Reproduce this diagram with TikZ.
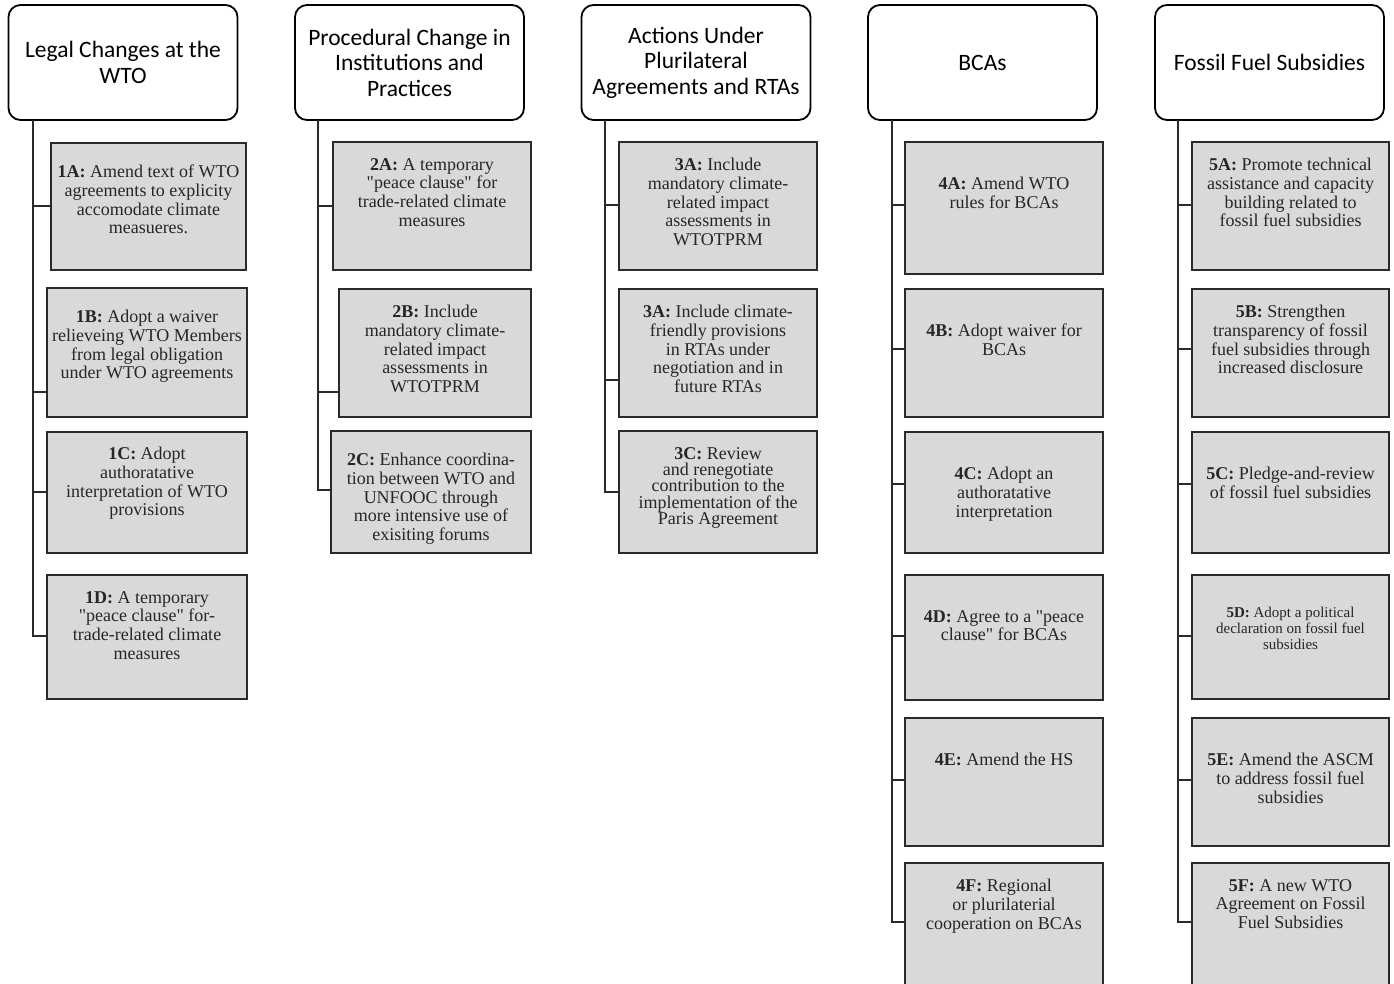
\documentclass[tikz,border=0pt]{standalone}
\usepackage{fontspec}
\newfontfamily\bodyfont{Liberation Serif}
\newfontfamily\headfont{Carlito}
\definecolor{boxfill}{HTML}{D9D9D9}
\definecolor{boxline}{HTML}{2A2A2A}
\definecolor{txt}{HTML}{262626}
\tikzset{
  hdr/.style={draw=black, line width=1.8pt, rounded corners=12pt, fill=white, align=center,
    minimum width=229pt, minimum height=115pt, inner sep=0pt, outer sep=0pt,
    font=\headfont\fontsize{23.5}{25.5}\selectfont, text=black},
  optbox/.style={draw=boxline, line width=2.6pt, fill=boxfill, inner sep=0pt, outer sep=0pt},
  opttext/.style={align=center, anchor=north, inner sep=0pt, text=txt,
    font=\bodyfont\fontsize{18}{18.7}\selectfont},
  trunk/.style={draw=boxline, line width=2.5pt},
  conn/.style={draw=boxline, line width=2.2pt},
}
\newcommand{\obox}[8][]{%
  \node[optbox, minimum width={(#4-#2)*1pt}, minimum height={(#5-#3)*1pt}] (#2x#3) at ({(#2+#4)/2},{(#3+#5)/2}) {};
  \node[opttext,#1] (#2x#3t) at ({(#2+#4)/2},{#6-6}) {#7};
  \coordinate (#8) at (#2x#3.west);
}
\newcommand{\myconn}[4]{%
  % #1 coordinate name, #2 trunk x, #3 y, #4 box node
  \coordinate (#1) at (#2,#3);
  \draw[conn] (#1) -- (#1 -| #4.west);
}
\begin{document}
\begin{tikzpicture}[x=1pt,y=-1pt]
\useasboundingbox (0,0) rectangle (1394,983);
\clip (0,0) rectangle (1394,983);
\fill[white] (0,0) rectangle (1394,983);

% headers
\node[hdr] (h1) at (123,62.5) {Legal Changes at the\\WTO};
\node[hdr] (h2) at (409.5,62.5) {Procedural Change in\\Institutions and\\Practices};
\node[hdr] (h3) at (696,62.5) {Actions Under\\Plurilateral\\Agreements and RTAs};
\node[hdr] (h4) at (982.5,62.5) {BCAs};
\node[hdr] (h5) at (1269.5,62.5) {Fossil Fuel Subsidies};

% column 1
\node[optbox, minimum width=195pt, minimum height=127pt] (b1a) at (148.5,206.5) {};
\node[opttext] (t1a) at (148.5,165) {\textbf{1A:} Amend text of WTO\\agreements to explicity\\accomodate climate\\measueres.};
\node[optbox, minimum width=200pt, minimum height=129pt] (b1b) at (147,352.5) {};
\node[opttext] (t1b) at (147,310) {\textbf{1B:} Adopt a waiver\\relieveing WTO Members\\from legal obligation\\under WTO agreements};
\node[optbox, minimum width=200pt, minimum height=121pt] (b1c) at (147,492.5) {};
\node[opttext] (t1c) at (147,447) {\textbf{1C:} Adopt\\authoratative\\interpretation of WTO\\provisions};
\node[optbox, minimum width=200pt, minimum height=124pt] (b1d) at (147,637) {};
\node[opttext] (t1d) at (147,591) {\textbf{1D:} A temporary\\"peace clause" for-\\trade-related climate\\measures};

% column 2
\node[optbox, minimum width=198pt, minimum height=128pt] (b2a) at (432,206) {};
\node[opttext] (t2a) at (432,158) {\textbf{2A:} A temporary\\"peace clause" for\\trade-related climate\\measures};
\node[optbox, minimum width=192pt, minimum height=128pt] (b2b) at (435,353) {};
\node[opttext] (t2b) at (435,305) {\textbf{2B:} Include\\mandatory climate-\\related impact\\assessments in\\WTOTPRM};
\node[optbox, minimum width=200pt, minimum height=122pt] (b2c) at (431,492) {};
\node[opttext] (t2c) at (431,453) {\textbf{2C:} Enhance coordina-\\tion between WTO and\\UNFOOC through\\more intensive use of\\exisiting forums};

% column 3
\node[optbox, minimum width=198pt, minimum height=128pt] (b3a) at (718,206) {};
\node[opttext] (t3a) at (718,158) {\textbf{3A:} Include\\mandatory climate-\\related impact\\assessments in\\WTOTPRM};
\node[optbox, minimum width=198pt, minimum height=128pt] (b3b) at (718,353) {};
\node[opttext] (t3b) at (718,305) {\textbf{3A:} Include climate-\\friendly provisions\\in RTAs under\\negotiation and in\\future RTAs};
\node[optbox, minimum width=198pt, minimum height=122pt] (b3c) at (718,492) {};
\node[opttext, font=\bodyfont\fontsize{18}{16.4}\selectfont] (t3c) at (718,447) {\textbf{3C:} Review\\and renegotiate\\contribution to the\\implementation of the\\Paris Agreement};

% column 4
\node[optbox, minimum width=198pt, minimum height=132pt] (b4a) at (1004,208) {};
\node[opttext] (t4a) at (1004,177) {\textbf{4A:} Amend WTO\\rules for BCAs};
\node[optbox, minimum width=198pt, minimum height=128pt] (b4b) at (1004,353) {};
\node[opttext] (t4b) at (1004,324) {\textbf{4B:} Adopt waiver for\\BCAs};
\node[optbox, minimum width=198pt, minimum height=121pt] (b4c) at (1004,492.5) {};
\node[opttext] (t4c) at (1004,467) {\textbf{4C:} Adopt an\\authoratative\\interpretation};
\node[optbox, minimum width=198pt, minimum height=125pt] (b4d) at (1004,637.5) {};
\node[opttext] (t4d) at (1004,610) {\textbf{4D:} Agree to a "peace\\clause" for BCAs};
\node[optbox, minimum width=198pt, minimum height=128pt] (b4e) at (1004,782) {};
\node[opttext] (t4e) at (1004,753) {\textbf{4E:} Amend the HS};
\node[optbox, minimum width=198pt, minimum height=132pt] (b4f) at (1004,929) {};
\node[opttext] (t4f) at (1004,879) {\textbf{4F:} Regional\\or plurilaterial\\cooperation on BCAs};

% column 5
\node[optbox, minimum width=197pt, minimum height=128pt] (b5a) at (1290.5,206) {};
\node[opttext] (t5a) at (1290.5,158) {\textbf{5A:} Promote technical\\assistance and capacity\\building related to\\fossil fuel subsidies};
\node[optbox, minimum width=197pt, minimum height=128pt] (b5b) at (1290.5,353) {};
\node[opttext] (t5b) at (1290.5,305) {\textbf{5B:} Strengthen\\transparency of fossil\\fuel subsidies through\\increased disclosure};
\node[optbox, minimum width=197pt, minimum height=121pt] (b5c) at (1290.5,492.5) {};
\node[opttext] (t5c) at (1290.5,467) {\textbf{5C:} Pledge-and-review\\of fossil fuel subsidies};
\node[optbox, minimum width=197pt, minimum height=124pt] (b5d) at (1290.5,637) {};
\node[opttext, font=\bodyfont\fontsize{15}{16}\selectfont] (t5d) at (1290.5,607) {\textbf{5D:} Adopt a political\\declaration on fossil fuel\\subsidies};
\node[optbox, minimum width=197pt, minimum height=128pt] (b5e) at (1290.5,782) {};
\node[opttext] (t5e) at (1290.5,753) {\textbf{5E:} Amend the ASCM\\to address fossil fuel\\subsidies};
\node[optbox, minimum width=197pt, minimum height=132pt] (b5f) at (1290.5,929) {};
\node[opttext] (t5f) at (1290.5,879) {\textbf{5F:} A new WTO\\Agreement on Fossil\\Fuel Subsidies};

% connectors column 1
\myconn{c1a}{33}{206}{b1a}
\myconn{c1b}{33}{392}{b1b}
\myconn{c1c}{33}{492}{b1c}
\myconn{c1d}{33}{636}{b1d}
\draw[trunk] (h1.south -| c1a) -- ([yshift=-1.1pt]c1d);
% column 2
\myconn{c2a}{318}{206}{b2a}
\myconn{c2b}{318}{392}{b2b}
\myconn{c2c}{318}{490}{b2c}
\draw[trunk] (h2.south -| c2a) -- ([yshift=-1.1pt]c2c);
% column 3
\myconn{c3a}{605}{205}{b3a}
\myconn{c3b}{605}{380}{b3b}
\myconn{c3c}{605}{492}{b3c}
\draw[trunk] (h3.south -| c3a) -- ([yshift=-1.1pt]c3c);
% column 4
\myconn{c4a}{892}{205}{b4a}
\myconn{c4b}{892}{349}{b4b}
\myconn{c4c}{892}{484}{b4c}
\myconn{c4d}{892}{636}{b4d}
\myconn{c4e}{892}{780}{b4e}
\myconn{c4f}{892}{922}{b4f}
\draw[trunk] (h4.south -| c4a) -- ([yshift=-1.1pt]c4f);
% column 5
\myconn{c5a}{1178}{205}{b5a}
\myconn{c5b}{1178}{349}{b5b}
\myconn{c5c}{1178}{484}{b5c}
\myconn{c5d}{1178}{636}{b5d}
\myconn{c5e}{1178}{780}{b5e}
\myconn{c5f}{1178}{922}{b5f}
\draw[trunk] (h5.south -| c5a) -- ([yshift=-1.1pt]c5f);
\end{tikzpicture}
\end{document}
